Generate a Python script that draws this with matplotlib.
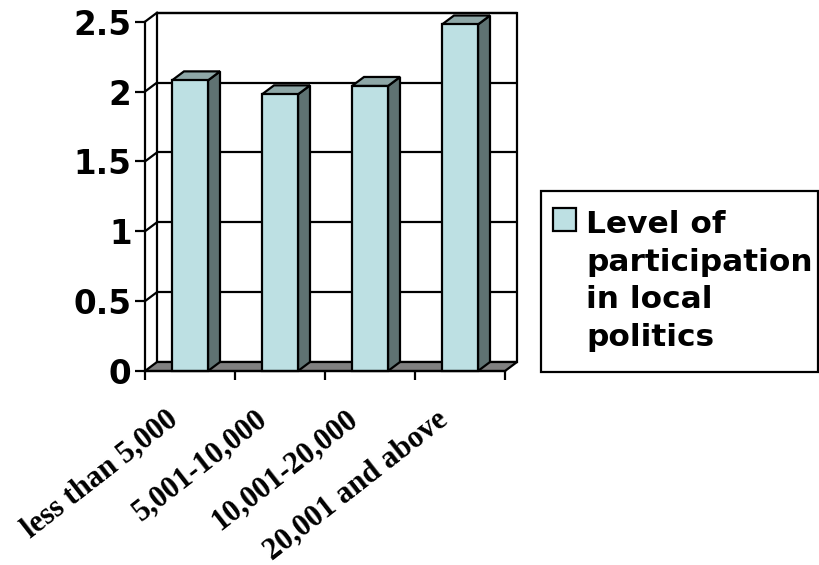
import matplotlib
matplotlib.use("Agg")
import matplotlib.pyplot as plt
from matplotlib.patches import Polygon, Rectangle
from matplotlib.transforms import ScaledTranslation

categories = ["less than 5,000", "5,001-10,000", "10,001-20,000", "20,001 and above"]
values = [2.08, 1.98, 2.04, 2.48]
y_ticks = [0, 0.5, 1, 1.5, 2, 2.5]
y_tick_labels = ["0", "0.5", "1", "1.5", "2", "2.5"]
series_name = "Level of\nparticipation\nin local\npolitics"

FRONT = "#BDE0E3"
SIDE = "#5F7272"
TOP = "#8EA7A7"
FLOOR = "#808080"
LW = 1.6

W, H = 820, 565
fig = plt.figure(figsize=(W / 100, H / 100), dpi=100)
fig.patch.set_facecolor("white")

# axes frame = front plane of the 3D box
x0, x1, y0, y1 = 145, 505, 371, 21.7
ax = fig.add_axes([x0 / W, (H - y0) / H, (x1 - x0) / W, (y0 - y1) / H])
ax.set_xlim(0, len(categories))
ax.set_ylim(0, 2.5)
ax.patch.set_alpha(0)

# depth offset in data units (12 px right, 9 px up)
dx = 12 / ((x1 - x0) / len(categories))
dy = 9 / ((y0 - y1) / 2.5)
n = len(categories)

# back wall
ax.add_patch(Rectangle((dx, dy), n, 2.5, facecolor="white", edgecolor="black",
                       lw=LW, zorder=1, clip_on=False))
# gridlines on back wall and side wall
for v in y_ticks[1:]:
    ax.plot([dx, n + dx], [v + dy, v + dy], color="black", lw=LW, zorder=1.5,
            clip_on=False, solid_capstyle="butt")
    ax.plot([0, dx], [v, v + dy], color="black", lw=LW, zorder=1.5, clip_on=False)

# floor
ax.add_patch(Polygon([(0, 0), (n, 0), (n + dx, dy), (dx, dy)], closed=True,
                     facecolor=FLOOR, edgecolor="black", lw=LW, zorder=2,
                     clip_on=False, joinstyle="miter"))

# bars
bw = 0.4
for i, v in enumerate(values):
    c = i + 0.5
    l, r = c - bw / 2, c + bw / 2
    ax.add_patch(Polygon([(r, 0), (r + dx, dy), (r + dx, v + dy), (r, v)],
                         closed=True, facecolor=SIDE, edgecolor="black", lw=LW,
                         zorder=3, clip_on=False))
    ax.add_patch(Polygon([(l, v), (r, v), (r + dx, v + dy), (l + dx, v + dy)],
                         closed=True, facecolor=TOP, edgecolor="black", lw=LW,
                         zorder=3, clip_on=False))
    ax.add_patch(Rectangle((l, 0), bw, v, facecolor=FRONT, edgecolor="black",
                           lw=LW, zorder=3.5, clip_on=False))

# spines / ticks
for s in ["top", "right"]:
    ax.spines[s].set_visible(False)
for s in ["left", "bottom"]:
    ax.spines[s].set_linewidth(LW)
    ax.spines[s].set_zorder(4)
ax.set_yticks(y_ticks)
ax.set_yticklabels(y_tick_labels, family="DejaVu Sans", fontweight="bold",
                   fontsize=23.5)
ax.tick_params(axis="y", direction="out", length=7.2, width=LW, pad=2.5)
ax.set_xticks(range(n + 1))
ax.set_xticklabels([])
ax.tick_params(axis="x", direction="out", length=6.5, width=LW)

# rotated category labels
offset = ScaledTranslation(-16 / 100, -45 / 100, fig.dpi_scale_trans)
for i, lab in enumerate(categories):
    ax.text(i + 0.5, 0, lab, transform=ax.transData + offset, rotation=38,
            rotation_mode="anchor", ha="right", va="center",
            family="Liberation Serif", fontweight="bold", fontsize=22)

# legend box
lx0, lx1, ly0, ly1 = 541, 818, 191, 372
fig.patches.append(Rectangle((lx0 / W, (H - ly1) / H), (lx1 - lx0) / W,
                             (ly1 - ly0) / H, transform=fig.transFigure,
                             facecolor="white", edgecolor="black", lw=LW))
fig.patches.append(Rectangle((553 / W, (H - 231) / H), 23 / W, 23 / H,
                             transform=fig.transFigure, facecolor=FRONT,
                             edgecolor="black", lw=LW))
fig.text(586 / W, (H - 346) / H, series_name, family="DejaVu Sans",
         fontweight="bold", fontsize=22.5, ha="left", va="baseline",
         linespacing=1.37)

fig.savefig("out.png", dpi=100)
